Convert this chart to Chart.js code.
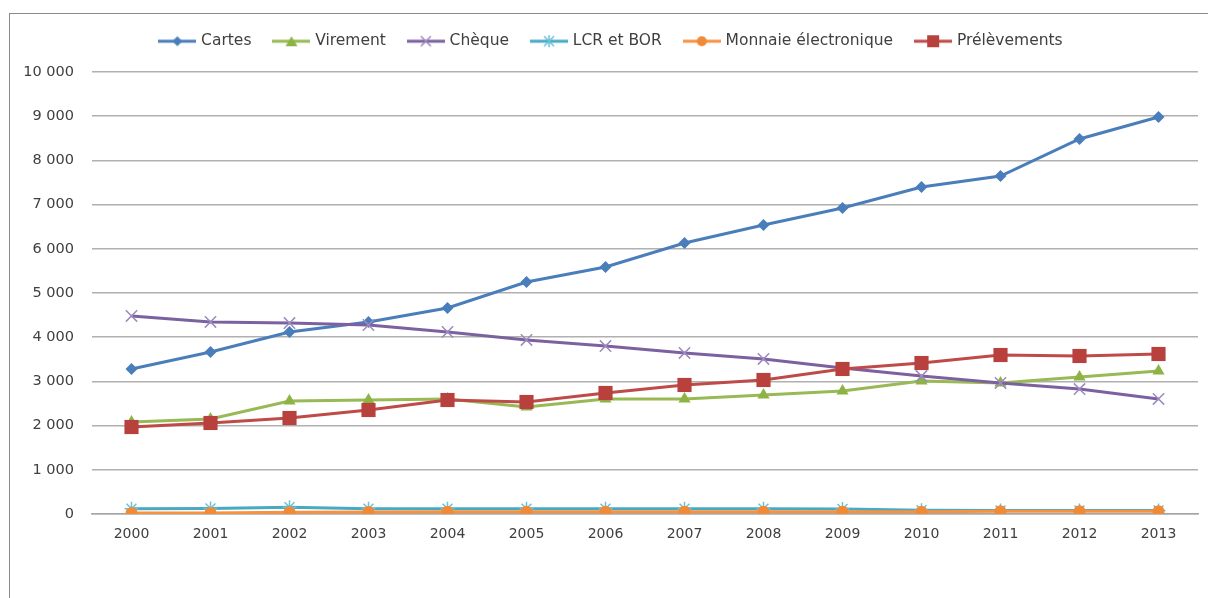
<!DOCTYPE html>
<html lang="fr">
<head>
    <meta charset="UTF-8">
    <title>Moyens de paiement 2000-2013</title>
    <script src="https://cdn.jsdelivr.net/npm/chart.js"></script>
    <style>
        body {
            margin: 0;
            background: #fff;
            overflow: hidden;
        }
        .frame {
            position: absolute;
            left: 9px;
            top: 13px;
            width: 1300px;
            height: 700px;
            border-left: 1.5px solid #8a8a8a;
            border-top: 1.5px solid #8a8a8a;
        }
        .wrap {
            position: absolute;
            left: 0;
            top: 0;
            width: 1208px;
            height: 598px;
        }
    </style>
</head>
<body>
    <div class="frame"></div>
    <div class="wrap">
        <canvas id="chart"></canvas>
    </div>
    <script>
        const years = ['2000', '2001', '2002', '2003', '2004', '2005', '2006',
                       '2007', '2008', '2009', '2010', '2011', '2012', '2013'];

        const cartes       = [3280, 3665, 4118, 4344, 4660, 5249, 5588, 6131, 6538, 6923, 7398, 7647, 8484, 8982];
        const virement     = [2081, 2149, 2557, 2579, 2602, 2421, 2602, 2602, 2692, 2783, 3009, 2964, 3100, 3235];
        const cheque       = [4480, 4344, 4321, 4276, 4118, 3937, 3800, 3643, 3507, 3303, 3122, 2964, 2828, 2602];
        const lcrBor       = [120, 125, 155, 120, 120, 120, 120, 120, 120, 115, 85, 80, 80, 80];
        const monnaie      = [20, 25, 40, 45, 50, 50, 50, 50, 50, 50, 50, 60, 60, 60];
        const prelevements = [1968, 2059, 2172, 2353, 2579, 2534, 2738, 2919, 3032, 3281, 3416, 3597, 3575, 3620];

        const yTicks = [0, 1000, 2000, 3000, 4000, 5000, 6000, 7000, 8000, 9000, 10000];

        const FONT = 'DejaVu Sans';

        // little "line + marker" images for the legend, like Excel
        function legendIcon(lineColor, markColor, style) {
            const c = document.createElement('canvas');
            c.width = 38;
            c.height = 14;
            const g = c.getContext('2d');
            g.strokeStyle = lineColor;
            g.lineWidth = 3;
            g.beginPath();
            g.moveTo(0, 7);
            g.lineTo(38, 7);
            g.stroke();
            g.fillStyle = markColor;
            g.strokeStyle = markColor;
            g.lineWidth = 1.5;
            const x = 19, y = 7;
            g.beginPath();
            if (style === 'diamond') {
                g.moveTo(x, y - 5); g.lineTo(x + 5, y); g.lineTo(x, y + 5); g.lineTo(x - 5, y);
                g.closePath(); g.fill();
            } else if (style === 'triangle') {
                g.moveTo(x, y - 5); g.lineTo(x + 6, y + 5); g.lineTo(x - 6, y + 5);
                g.closePath(); g.fill();
            } else if (style === 'x') {
                g.moveTo(x - 5, y - 5); g.lineTo(x + 5, y + 5);
                g.moveTo(x + 5, y - 5); g.lineTo(x - 5, y + 5);
                g.stroke();
            } else if (style === 'star') {
                g.moveTo(x - 5, y - 5); g.lineTo(x + 5, y + 5);
                g.moveTo(x + 5, y - 5); g.lineTo(x - 5, y + 5);
                g.moveTo(x, y - 6); g.lineTo(x, y + 6);
                g.stroke();
            } else if (style === 'circle') {
                g.arc(x, y, 5, 0, Math.PI * 2);
                g.fill();
            } else if (style === 'square') {
                g.rect(x - 6, y - 6, 12, 12);
                g.fill();
            }
            return c;
        }

        const series = [
            { label: 'Cartes', data: cartes, line: '#4A7EBB', mark: '#4A7EBB', style: 'rectRot', r: 6, icon: 'diamond' },
            { label: 'Virement', data: virement, line: '#98B954', mark: '#8DB345', style: 'triangle', r: 7, icon: 'triangle' },
            { label: 'Chèque', data: cheque, line: '#7D60A0', mark: '#9C8BBE', style: 'crossRot', r: 8, icon: 'x' },
            { label: 'LCR et BOR', data: lcrBor, line: '#46AAC5', mark: '#6CC0D8', style: 'star', r: 7, icon: 'star' },
            { label: 'Monnaie électronique', data: monnaie, line: '#F69240', mark: '#F08A36', style: 'circle', r: 6, icon: 'circle' },
            { label: 'Prélèvements', data: prelevements, line: '#BE4B48', mark: '#B8403D', style: 'rect', r: 10, icon: 'square' }
        ];

        const datasets = series.map((s, i) => ({
            label: s.label,
            data: s.data,
            borderColor: s.line,
            backgroundColor: s.mark,
            borderWidth: 3,
            pointStyle: s.style,
            pointRadius: s.r,
            pointHoverRadius: s.r,
            pointBackgroundColor: s.mark,
            pointBorderColor: s.mark,
            pointBorderWidth: (s.style === 'crossRot' || s.style === 'star') ? 1.5 : 0,
            tension: 0,
            order: series.length - i,
            legendIcon: legendIcon(s.line, s.mark, s.icon)
        }));

        // force the legend box height so the plot top lands where Excel put it
        const legendHeight = {
            id: 'legendHeight',
            beforeInit(chart) {
                const lg = chart.legend;
                if (!lg) return;
                const fit = lg.fit;
                lg.fit = function () {
                    fit.call(this);
                    this.height = 62.5;
                };
            }
        };

        new Chart(document.getElementById('chart'), {
            type: 'line',
            data: { labels: years, datasets: datasets },
            plugins: [legendHeight],
            options: {
                responsive: true,
                maintainAspectRatio: false,
                animation: false,
                layout: { padding: { left: 24, right: 8, top: 9.5, bottom: 0 } },
                plugins: {
                    tooltip: { enabled: false },
                    legend: {
                        position: 'top',
                        labels: {
                            usePointStyle: true,
                            pointStyleWidth: 32,
                            boxHeight: 14,
                            padding: 24,
                            color: '#404040',
                            font: { family: FONT, size: 15.5 },
                            generateLabels: chart => chart.data.datasets.map((d, i) => ({
                                text: d.label,
                                pointStyle: d.legendIcon,
                                fillStyle: d.borderColor,
                                strokeStyle: d.borderColor,
                                lineWidth: 0,
                                fontColor: '#404040',
                                hidden: !chart.isDatasetVisible(i),
                                datasetIndex: i
                            }))
                        }
                    }
                },
                scales: {
                    x: {
                        offset: true,
                        grid: { display: false, drawTicks: false },
                        border: { display: true, color: '#a6a6a6', width: 1.5 },
                        ticks: {
                            color: '#404040',
                            padding: 12,
                            maxRotation: 0,
                            font: { family: FONT, size: 14 }
                        },
                        afterFit: scale => { scale.height = 84; }
                    },
                    y: {
                        min: 0,
                        max: 10000,
                        afterBuildTicks: scale => {
                            scale.ticks = yTicks.map(v => ({ value: v }));
                        },
                        grid: { color: '#b0b0b0', lineWidth: 1.5, drawTicks: false },
                        border: { display: false },
                        ticks: {
                            color: '#404040',
                            padding: 18,
                            font: { family: FONT, size: 14.5 },
                            callback: v => v.toLocaleString('fr-FR').replace(/\s/g, ' ')
                        },
                        afterFit: scale => { scale.width = 68; }
                    }
                }
            }
        });
    </script>
</body>
</html>
